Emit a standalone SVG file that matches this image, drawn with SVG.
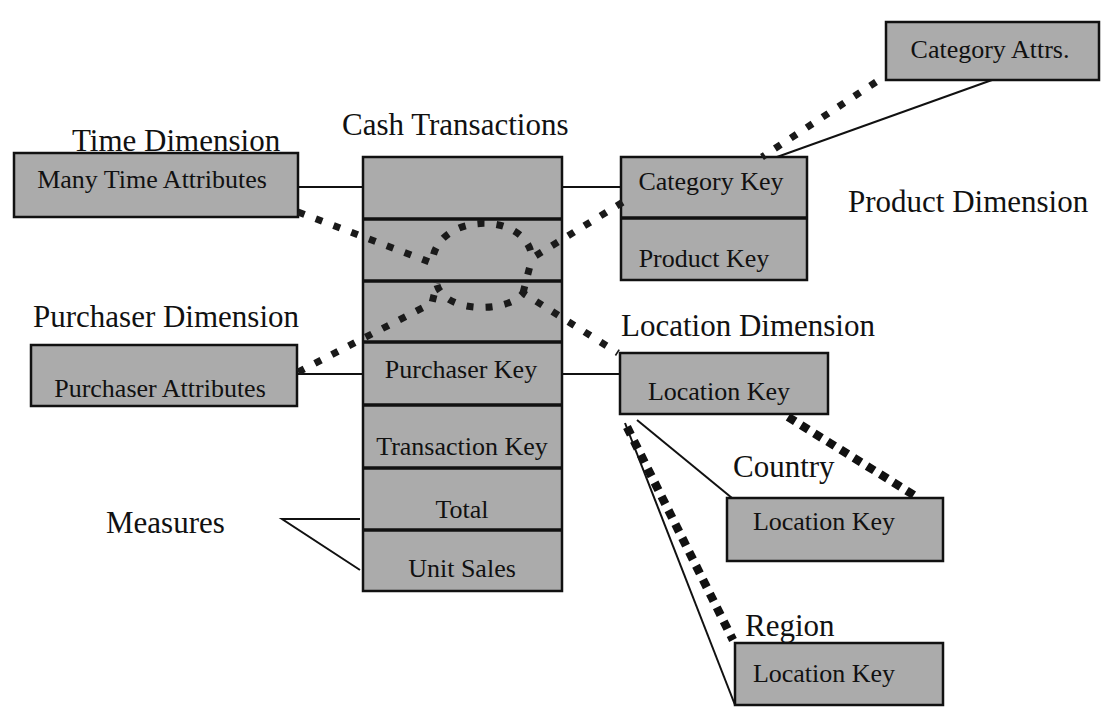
<svg xmlns="http://www.w3.org/2000/svg" width="1106" height="719" viewBox="0 0 1106 719">
  <style>
    .box { fill: #ababab; stroke: #111; stroke-width: 2.5; }
    .div { stroke: #111; stroke-width: 3.5; }
    .lbl { font-family: "Liberation Serif", "Times New Roman", serif; font-size: 31px; fill: #111; }
    .txt { font-family: "Liberation Serif", "Times New Roman", serif; font-size: 26px; fill: #111; text-anchor: middle; }
    .link { stroke: #111; stroke-width: 2; fill: none; }
    .dots { stroke: #1a1a1a; stroke-width: 7; fill: none; stroke-dasharray: 7 12; }
    .dots-big { stroke: #111; stroke-width: 8.5; fill: none; stroke-dasharray: 8.5 7; }
  </style>

  <rect width="1106" height="719" fill="#ffffff"/>

  <!-- Time dimension -->
  <g id="time-dimension">
    <text class="lbl" x="72" y="151">Time Dimension</text>
    <rect class="box" x="14" y="153" width="284" height="64"/>
    <text class="txt" x="152" y="188">Many Time Attributes</text>
  </g>

  <!-- Fact table -->
  <g id="cash-transactions">
    <text class="lbl" x="342" y="135">Cash Transactions</text>
    <rect class="box" x="363" y="157" width="199" height="434"/>
    <line class="div" x1="363" y1="219" x2="562" y2="219"/>
    <line class="div" x1="363" y1="281" x2="562" y2="281"/>
    <line class="div" x1="363" y1="342" x2="562" y2="342"/>
    <line class="div" x1="363" y1="405" x2="562" y2="405"/>
    <line class="div" x1="363" y1="468" x2="562" y2="468"/>
    <line class="div" x1="363" y1="530" x2="562" y2="530"/>
    <text class="txt" x="461" y="378">Purchaser Key</text>
    <text class="txt" x="462" y="455">Transaction Key</text>
    <text class="txt" x="462" y="518">Total</text>
    <text class="txt" x="462" y="577">Unit Sales</text>
  </g>

  <!-- Product dimension -->
  <g id="product-dimension">
    <rect class="box" x="621" y="157" width="186" height="123"/>
    <line class="div" x1="621" y1="218" x2="807" y2="218"/>
    <text class="txt" x="711" y="190">Category Key</text>
    <text class="txt" x="704" y="267">Product Key</text>
    <text class="lbl" x="848" y="212">Product Dimension</text>
  </g>

  <g id="category-attrs">
    <rect class="box" x="886" y="22" width="213" height="58"/>
    <text class="txt" x="990" y="58">Category Attrs.</text>
  </g>

  <!-- Purchaser dimension -->
  <g id="purchaser-dimension">
    <text class="lbl" x="33" y="327">Purchaser Dimension</text>
    <rect class="box" x="31" y="345" width="266" height="61"/>
    <text class="txt" x="160" y="397">Purchaser Attributes</text>
  </g>

  <!-- Location dimension -->
  <g id="location-dimension">
    <text class="lbl" x="621" y="336">Location Dimension</text>
    <rect class="box" x="620" y="353" width="208" height="61"/>
    <text class="txt" x="719" y="400">Location Key</text>
  </g>

  <g id="country">
    <text class="lbl" x="733" y="477">Country</text>
    <rect class="box" x="727" y="498" width="216" height="63"/>
    <text class="txt" x="824" y="530">Location Key</text>
  </g>

  <g id="region">
    <text class="lbl" x="745" y="636">Region</text>
    <rect class="box" x="735" y="643" width="208" height="62"/>
    <text class="txt" x="824" y="682">Location Key</text>
  </g>

  <g id="measures">
    <text class="lbl" x="106" y="533">Measures</text>
  </g>

  <!-- solid and dotted connectors, drawn over the boxes -->
  <g id="connectors">
    <line class="link" x1="298" y1="187" x2="363" y2="187"/>
    <line class="link" x1="562" y1="187" x2="621" y2="187"/>
    <line class="link" x1="298" y1="374" x2="363" y2="374"/>
    <line class="link" x1="562" y1="374" x2="620" y2="374"/>
    <line class="link" x1="992" y1="80" x2="777" y2="157"/>
    <line class="link" x1="637" y1="420" x2="732" y2="498"/>
    <line class="link" x1="625" y1="423" x2="735" y2="705"/>
    <polyline class="link" points="360,519 282,519 360,570"/>

    <path class="dots" d="M298,212 L432,263 C436,211 528,211 532,258 L623,202"/>
    <path class="dots" d="M298,372 L432,303 L437,283"/>
    <path class="dots" d="M437,285 C447,315 510,312 523,293 L618,353"/>
    <path class="dots" d="M523,293 L532,258"/>
    <path class="dots" d="M876,82 L762,157"/>
    <path class="dots-big" d="M788,417 L917,497"/>
    <path class="dots-big" d="M627,427 L733,640"/>
  </g>
</svg>
